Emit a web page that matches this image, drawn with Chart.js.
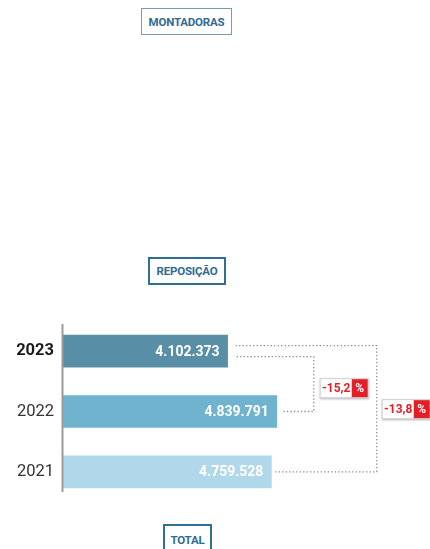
<!DOCTYPE html>
<html>
<head>
<meta charset="utf-8">
<script src="https://cdn.jsdelivr.net/npm/chart.js@4"></script>
<style>
  html, body { margin: 0; padding: 0; background: #fff; }
  #wrap { position: relative; width: 430px; height: 549px; overflow: hidden; }
  #chart { position: absolute; left: 0; top: 0; }
  .tab {
    position: absolute; box-sizing: border-box;
    font-family: Roboto, "Noto Sans", sans-serif; font-weight: 700; font-size: 11.5px;
    color: #2f6a93; letter-spacing: -0.2px;
    display: flex; align-items: center; justify-content: center;
    background: #fff;
  }
</style>
</head>
<body>
<div id="wrap">
  <canvas id="chart" width="430" height="549"></canvas>
  <div class="tab" style="left:141px;top:8px;width:91px;height:27px;border:1.5px solid #6f9cbf;">MONTADORAS</div>
  <div class="tab" style="left:148px;top:257px;width:78px;height:28px;border:2px solid #2f6f96;">REPOSIÇÃO</div>
  <div class="tab" style="left:163px;top:524px;width:49px;height:30px;border:2px solid #2f6f96;border-bottom:none;">TOTAL</div>
</div>
<script>
  // ---------- Data ----------
  const years = ['2023', '2022', '2021'];
  const totals = [4102373, 4839791, 4759528];
  const barColors = ['#588fa6', '#6fb3cf', '#b0d8ea'];

  function fmtInt(v) {
    return String(v).replace(/\B(?=(\d{3})+(?!\d))/g, '.');
  }
  function pctChange(a, b) {
    return ((a - b) / b * 100).toFixed(1).replace('.', ',');
  }

  // ---------- Plugins ----------
  const valueLabels = {
    id: 'valueLabels',
    afterDatasetsDraw(chart) {
      const ctx = chart.ctx;
      const meta = chart.getDatasetMeta(0);
      ctx.save();
      ctx.font = 'bold 14px Roboto, "Noto Sans", sans-serif';
      ctx.fillStyle = '#ffffff';
      ctx.textAlign = 'right';
      ctx.textBaseline = 'middle';
      meta.data.forEach((bar, i) => {
        ctx.fillText(fmtInt(totals[i]), bar.x - 8, bar.y + 1);
      });
      ctx.restore();
    }
  };

  const axisLine = {
    id: 'axisLine',
    afterDraw(chart) {
      const ctx = chart.ctx;
      const a = chart.chartArea;
      ctx.save();
      ctx.strokeStyle = '#9a9a9a';
      ctx.lineWidth = 2;
      ctx.beginPath();
      ctx.moveTo(a.left - 0.5, a.top + 3);
      ctx.lineTo(a.left - 0.5, a.bottom - 10);
      ctx.stroke();
      ctx.restore();
    }
  };

  function drawBadge(ctx, x, y, text) {
    const w = 49, h = 20, redW = 16;
    const whiteW = w - redW - 1;
    ctx.save();
    ctx.shadowColor = 'rgba(0,0,0,0.35)';
    ctx.shadowBlur = 2;
    ctx.shadowOffsetY = 1;
    ctx.fillStyle = '#fff';
    ctx.fillRect(x, y, w, h);
    ctx.restore();
    ctx.save();
    ctx.strokeStyle = '#cfcfcf';
    ctx.lineWidth = 1;
    ctx.strokeRect(x + 0.5, y + 0.5, w - 1, h - 1);
    ctx.fillStyle = '#e31e26';
    ctx.fillRect(x + whiteW, y + 1, redW, h - 2);
    ctx.font = 'bold 12px Roboto, "Noto Sans", sans-serif';
    ctx.textBaseline = 'middle';
    ctx.textAlign = 'center';
    ctx.fillStyle = '#e31e26';
    ctx.fillText(text, x + whiteW / 2 + 0.5, y + h / 2 + 1);
    ctx.fillStyle = '#fff';
    ctx.fillText('%', x + whiteW + redW / 2, y + h / 2 + 1);
    ctx.restore();
  }

  const connectors = {
    id: 'connectors',
    afterDraw(chart) {
      const ctx = chart.ctx;
      const bars = chart.getDatasetMeta(0).data;
      const b23 = bars[0], b22 = bars[1], b21 = bars[2];
      const xR2 = b22.x + 37;
      const xR1 = xR2 + 63;
      ctx.save();
      ctx.strokeStyle = '#8a8a8a';
      ctx.lineWidth = 1.3;
      ctx.setLineDash([1.3, 2.2]);
      ctx.beginPath();
      ctx.moveTo(b23.x + 8, b23.y - 5.5);
      ctx.lineTo(xR1, b23.y - 5.5);
      ctx.lineTo(xR1, b21.y);
      ctx.lineTo(b21.x + 4, b21.y);
      ctx.stroke();
      ctx.beginPath();
      ctx.moveTo(b23.x + 9, b23.y + 5.5);
      ctx.lineTo(xR2, b23.y + 5.5);
      ctx.lineTo(xR2, b22.y);
      ctx.lineTo(b22.x + 6, b22.y);
      ctx.stroke();
      ctx.restore();
      drawBadge(ctx, xR2 + 6, b23.y + 27, pctChange(totals[0], totals[1]));
      drawBadge(ctx, xR1 + 5, b23.y + 48, pctChange(totals[0], totals[2]));
    }
  };

  // ---------- Chart ----------
  new Chart(document.getElementById('chart'), {
    type: 'bar',
    data: {
      labels: years,
      datasets: [{
        data: totals,
        backgroundColor: barColors,
        borderWidth: 0,
        barThickness: 32
      }]
    },
    options: {
      indexAxis: 'y',
      responsive: false,
      animation: false,
      layout: { padding: { top: 321, bottom: 47, left: 0, right: 76 } },
      plugins: { legend: { display: false }, tooltip: { enabled: false } },
      scales: {
        x: {
          display: false,
          min: 1630000,
          max: 6000000
        },
        y: {
          afterFit(scale) { scale.width = 63; },
          grid: { display: false },
          border: { display: false },
          ticks: {
            padding: 1,
            color: (c) => (c.index === 0 ? '#1a1a1a' : '#333333'),
            font: (c) => ({
              family: 'Roboto, "Noto Sans", sans-serif',
              size: 16.5,
              weight: c.index === 0 ? 'bold' : 'normal'
            })
          }
        }
      }
    },
    plugins: [valueLabels, axisLine, connectors]
  });
</script>
</body>
</html>
